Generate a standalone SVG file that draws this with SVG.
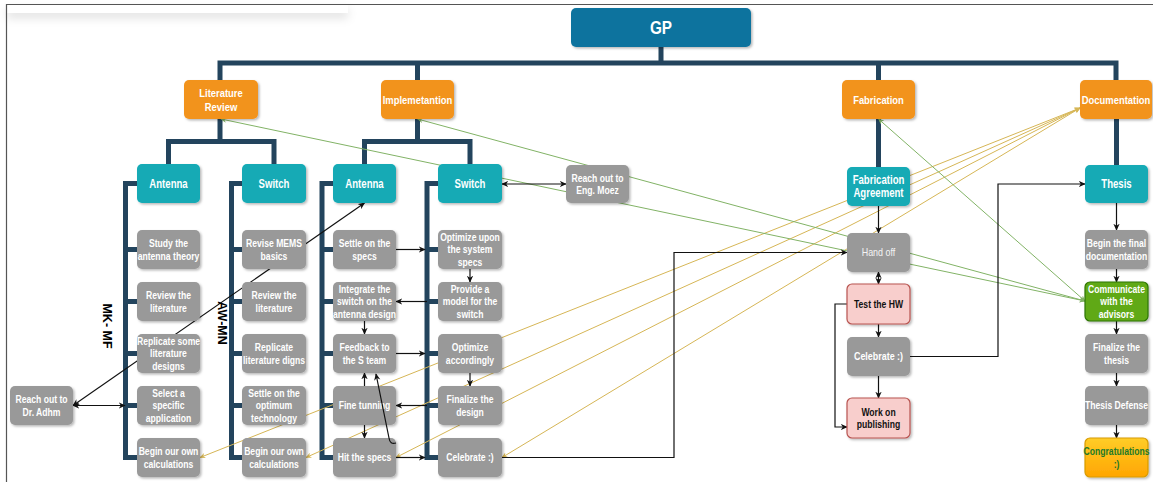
<svg xmlns="http://www.w3.org/2000/svg" width="1153" height="482" viewBox="0 0 1153 482">
  <style>
    rect.n { rx: 5px; ry: 5px; filter: url(#sh); }
    .gray { fill: #999999; }
    .teal { fill: #12AAB5; }
    .orange { fill: #F2931E; }
    .pink { fill: #F8CECC; stroke: #B85450; stroke-width: 1.2; }
    .green { fill: #60A917; stroke: #2D7600; stroke-width: 1.2; }
    .gold { fill: url(#goldGrad); stroke: #D79B00; stroke-width: 1.2; }
    text { font-family: "Liberation Sans", Arial, Helvetica, sans-serif; font-weight: bold; text-anchor: middle; fill: #ffffff; font-size: 10.5px; }
    text.h { font-size: 12px; }
    text.o { font-size: 11.5px; }
    text.dark { fill: #111111; }
    text.cg { fill: #23782A; }
    text.thin { font-weight: normal; fill: #f4f4f4; }
    text.side { fill: #000000; font-size: 12.5px; }
    .tree { fill: none; stroke: #23445D; stroke-width: 5; stroke-linejoin: miter; stroke-linecap: butt; }
    .blk { fill: none; stroke: #111111; stroke-width: 1.2; marker-end: url(#ab); }
    .both { marker-start: url(#ab); }
    .grn { fill: none; stroke: #82B366; stroke-width: 1; marker-start: url(#ag); marker-end: url(#ag); }
    .yel { fill: none; stroke: #D6B656; stroke-width: 1; marker-start: url(#ay); marker-end: url(#ay); }
  </style>
  <defs>
    <filter id="sh" x="-20%" y="-20%" width="150%" height="150%">
      <feDropShadow dx="1.5" dy="1.5" stdDeviation="1" flood-color="#000" flood-opacity="0.28"/>
    </filter>
    <filter id="panelShadow" x="-10%" y="-100%" width="120%" height="500%">
      <feDropShadow dx="0" dy="5" stdDeviation="5" flood-color="#000" flood-opacity="0.12"/>
    </filter>
    <linearGradient id="goldGrad" x1="0" y1="0" x2="0" y2="1">
      <stop offset="0" stop-color="#FFCD28"/>
      <stop offset="1" stop-color="#FFA500"/>
    </linearGradient>
    <marker id="ab" viewBox="0 0 10 10" refX="9" refY="5" markerWidth="7" markerHeight="7" markerUnits="userSpaceOnUse" orient="auto-start-reverse">
      <path d="M0,0.5 L10,5 L0,9.5 L3,5 z" fill="#111111"/>
    </marker>
    <marker id="ag" viewBox="0 0 10 10" refX="9" refY="5" markerWidth="6" markerHeight="6" markerUnits="userSpaceOnUse" orient="auto-start-reverse">
      <path d="M0,0.5 L10,5 L0,9.5 L3,5 z" fill="#82B366"/>
    </marker>
    <marker id="ay" viewBox="0 0 10 10" refX="9" refY="5" markerWidth="6" markerHeight="6" markerUnits="userSpaceOnUse" orient="auto-start-reverse">
      <path d="M0,0.5 L10,5 L0,9.5 L3,5 z" fill="#D6B656"/>
    </marker>
  </defs>

  <!-- page frame and top panel -->
  <rect x="0" y="0" width="1153" height="482" fill="#ffffff"/>
  <rect x="7" y="4" width="341" height="9" fill="#ffffff" filter="url(#panelShadow)"/>
  <path d="M6.5 482 V4.5 H1153" fill="none" stroke="#555555" stroke-width="1.2"/>

  <!-- connectors (below the nodes) -->
  <g id="connectors">
    <g id="tree-lines">
      <path class="tree" d="M220 80 V63 H1116 V80 M661 47 V63 M417.5 63 V80 M878.5 63 V80"/>
      <path class="tree" d="M220 119 V141.5 M168.5 164 V141.5 H274 V164"/>
      <path class="tree" d="M417.5 119 V141.5 M364.5 164 V141.5 H470 V164"/>
      <path class="tree" d="M878.5 119 V167 M1116.5 119 V165"/>
      <path class="tree" d="M137 183.5 H125.5 V457.5 H137 M125.5 249.5 H137 M125.5 301.5 H137 M125.5 353.5 H137 M125.5 405.5 H137"/>
      <path class="tree" d="M242 183.5 H231.5 V457.5 H242 M231.5 249.5 H242 M231.5 301.5 H242 M231.5 353.5 H242 M231.5 405.5 H242"/>
      <path class="tree" d="M333 183.5 H322 V457.5 H333 M322 249.5 H333 M322 301.5 H333 M322 353.5 H333 M322 405.5 H333"/>
      <path class="tree" d="M438 183.5 H427 V457.5 H438 M427 249.5 H438 M427 301.5 H438 M427 353.5 H438 M427 405.5 H438"/>
    </g>
    <g id="doc-links">
      <path class="yel" d="M1080 108 L200 457.5"/>
      <path class="yel" d="M1080 108 L306 457.5"/>
      <path class="yel" d="M1080 108 L396 457.5"/>
      <path class="yel" d="M1080 108 L502 457.5"/>
    </g>
    <g id="advisor-links">
      <path class="grn" d="M1085 301 L221 119"/>
      <path class="grn" d="M1085 301 L417.5 119"/>
      <path class="grn" d="M1085 301 L878.5 119"/>
    </g>
    <g id="flow">
      <path class="blk" d="M396 249.5 H425"/>
      <path class="blk" d="M470 269 V282"/>
      <path class="blk" d="M427 301.5 H396"/>
      <path class="blk" d="M364.5 321 V334"/>
      <path class="blk" d="M396 353.5 H425"/>
      <path class="blk" d="M470 373 V386"/>
      <path class="blk" d="M427 405.5 H396"/>
      <path class="blk" d="M364.5 386 V373"/>
      <path class="blk" d="M364.5 425 V438"/>
      <path class="blk" d="M396 457.5 H425"/>
      <path class="blk" d="M502 457.5 H674 V252.5 H847"/>
      <path class="blk both" d="M502 184 H566"/>
      <path class="blk both" d="M73 405.5 H125"/>
      <path class="blk both" d="M73 405.5 L364.5 203"/>
      <path class="blk" d="M878.5 206 V233"/>
      <path class="blk both" d="M878.5 272 V284"/>
      <path class="blk" d="M878.5 324 V337"/>
      <path class="blk" d="M878.5 376 V398"/>
      <path class="blk" d="M847 304 H835 V427 H847"/>
      <path class="blk" d="M910 356.5 H998 V184 H1085"/>
      <path class="blk" d="M1116.5 203 V230"/>
      <path class="blk" d="M1116.5 269 V282"/>
      <path class="blk" d="M1116.5 321 V334"/>
      <path class="blk" d="M1116.5 373 V386"/>
      <path class="blk" d="M1116.5 425 V438"/>
    </g>
  </g>

  <!-- top level -->
  <g id="gp"><rect class="n" x="571" y="8" width="180" height="39" fill="#10739E"/><text style="font-size:18px" transform="translate(661 27.5) scale(.85 1)" y="6.5">GP</text></g>
  <g id="literature-review"><rect class="n orange" x="184" y="80" width="74" height="39"/><text class="o" transform="translate(221 99.5) scale(.82 1)"><tspan x="0" y="-2.9">Literature</tspan><tspan x="0" y="11.1">Review</tspan></text></g>
  <g id="implementation"><rect class="n orange" x="381" y="80" width="73" height="39"/><text class="o" transform="translate(417.5 99.5) scale(.82 1)" y="4.1">Implemetantion</text></g>
  <g id="fabrication"><rect class="n orange" x="842" y="80" width="73" height="39"/><text class="o" transform="translate(878.5 99.5) scale(.82 1)" y="4.1">Fabrication</text></g>
  <g id="documentation"><rect class="n orange" x="1080" y="80" width="72" height="39"/><text class="o" transform="translate(1116 99.5) scale(.82 1)" y="4.1">Documentation</text></g>

  <!-- literature review: antenna -->
  <g id="lit-antenna"><rect class="n teal" x="137" y="164" width="63" height="39"/><text class="h" transform="translate(168.5 183.5) scale(.8 1)" y="4.3">Antenna</text></g>
  <g id="lit-ant-1"><rect class="n gray" x="137" y="230" width="63" height="39"/><text transform="translate(168.5 249.5) scale(.82 1)"><tspan x="0" y="-2.45">Study the</tspan><tspan x="0" y="10.05">antenna theory</tspan></text></g>
  <g id="lit-ant-2"><rect class="n gray" x="137" y="282" width="63" height="39"/><text transform="translate(168.5 301.5) scale(.82 1)"><tspan x="0" y="-2.45">Review the</tspan><tspan x="0" y="10.05">literature</tspan></text></g>
  <g id="lit-ant-3"><rect class="n gray" x="137" y="334" width="63" height="39"/><text transform="translate(168.5 353.5) scale(.82 1)"><tspan x="0" y="-8.7">Replicate some</tspan><tspan x="0" y="3.8">literature</tspan><tspan x="0" y="16.3">designs</tspan></text></g>
  <g id="lit-ant-4"><rect class="n gray" x="137" y="386" width="63" height="39"/><text transform="translate(168.5 405.5) scale(.82 1)"><tspan x="0" y="-8.7">Select a</tspan><tspan x="0" y="3.8">specific</tspan><tspan x="0" y="16.3">application</tspan></text></g>
  <g id="lit-ant-5"><rect class="n gray" x="137" y="438" width="63" height="39"/><text transform="translate(168.5 457.5) scale(.82 1)"><tspan x="0" y="-2.45">Begin our own</tspan><tspan x="0" y="10.05">calculations</tspan></text></g>

  <!-- literature review: switch -->
  <g id="lit-switch"><rect class="n teal" x="242" y="164" width="64" height="39"/><text class="h" transform="translate(274 183.5) scale(.8 1)" y="4.3">Switch</text></g>
  <g id="lit-sw-1"><rect class="n gray" x="242" y="230" width="64" height="39"/><text transform="translate(274 249.5) scale(.82 1)"><tspan x="0" y="-2.45">Revise MEMS</tspan><tspan x="0" y="10.05">basics</tspan></text></g>
  <g id="lit-sw-2"><rect class="n gray" x="242" y="282" width="64" height="39"/><text transform="translate(274 301.5) scale(.82 1)"><tspan x="0" y="-2.45">Review the</tspan><tspan x="0" y="10.05">literature</tspan></text></g>
  <g id="lit-sw-3"><rect class="n gray" x="242" y="334" width="64" height="39"/><text transform="translate(274 353.5) scale(.82 1)"><tspan x="0" y="-2.45">Replicate</tspan><tspan x="0" y="10.05">literature digns</tspan></text></g>
  <g id="lit-sw-4"><rect class="n gray" x="242" y="386" width="64" height="39"/><text transform="translate(274 405.5) scale(.82 1)"><tspan x="0" y="-8.7">Settle on the</tspan><tspan x="0" y="3.8">optimum</tspan><tspan x="0" y="16.3">technology</tspan></text></g>
  <g id="lit-sw-5"><rect class="n gray" x="242" y="438" width="64" height="39"/><text transform="translate(274 457.5) scale(.82 1)"><tspan x="0" y="-2.45">Begin our own</tspan><tspan x="0" y="10.05">calculations</tspan></text></g>

  <!-- implementation: antenna -->
  <g id="impl-antenna"><rect class="n teal" x="333" y="164" width="63" height="39"/><text class="h" transform="translate(364.5 183.5) scale(.8 1)" y="4.3">Antenna</text></g>
  <g id="impl-ant-1"><rect class="n gray" x="333" y="230" width="63" height="39"/><text transform="translate(364.5 249.5) scale(.82 1)"><tspan x="0" y="-2.45">Settle on the</tspan><tspan x="0" y="10.05">specs</tspan></text></g>
  <g id="impl-ant-2"><rect class="n gray" x="333" y="282" width="63" height="39"/><text transform="translate(364.5 301.5) scale(.82 1)"><tspan x="0" y="-8.7">Integrate the</tspan><tspan x="0" y="3.8">switch on the</tspan><tspan x="0" y="16.3">antenna design</tspan></text></g>
  <g id="impl-ant-3"><rect class="n gray" x="333" y="334" width="63" height="39"/><text transform="translate(364.5 353.5) scale(.82 1)"><tspan x="0" y="-2.45">Feedback to</tspan><tspan x="0" y="10.05">the S team</tspan></text></g>
  <g id="impl-ant-4"><rect class="n gray" x="333" y="386" width="63" height="39"/><text transform="translate(364.5 405.5) scale(.82 1)" y="3.8">Fine tunning</text></g>
  <g id="impl-ant-5"><rect class="n gray" x="333" y="438" width="63" height="39"/><text transform="translate(364.5 457.5) scale(.82 1)" y="3.8">Hit the specs</text></g>

  <!-- implementation: switch -->
  <g id="impl-switch"><rect class="n teal" x="438" y="164" width="64" height="39"/><text class="h" transform="translate(470 183.5) scale(.8 1)" y="4.3">Switch</text></g>
  <g id="impl-sw-1"><rect class="n gray" x="438" y="230" width="64" height="39"/><text transform="translate(470 249.5) scale(.82 1)"><tspan x="0" y="-8.7">Optimize upon</tspan><tspan x="0" y="3.8">the system</tspan><tspan x="0" y="16.3">specs</tspan></text></g>
  <g id="impl-sw-2"><rect class="n gray" x="438" y="282" width="64" height="39"/><text transform="translate(470 301.5) scale(.82 1)"><tspan x="0" y="-8.7">Provide a</tspan><tspan x="0" y="3.8">model for the</tspan><tspan x="0" y="16.3">switch</tspan></text></g>
  <g id="impl-sw-3"><rect class="n gray" x="438" y="334" width="64" height="39"/><text transform="translate(470 353.5) scale(.82 1)"><tspan x="0" y="-2.45">Optimize</tspan><tspan x="0" y="10.05">accordingly</tspan></text></g>
  <g id="impl-sw-4"><rect class="n gray" x="438" y="386" width="64" height="39"/><text transform="translate(470 405.5) scale(.82 1)"><tspan x="0" y="-2.45">Finalize the</tspan><tspan x="0" y="10.05">design</tspan></text></g>
  <g id="impl-sw-5"><rect class="n gray" x="438" y="438" width="64" height="39"/><text transform="translate(470 457.5) scale(.82 1)" y="3.8">Celebrate :)</text></g>

  <!-- outside contacts -->
  <g id="dr-adhm"><rect class="n gray" x="10" y="386" width="63" height="39"/><text transform="translate(41.5 405.5) scale(.82 1)"><tspan x="0" y="-2.45">Reach out to</tspan><tspan x="0" y="10.05">Dr. Adhm</tspan></text></g>
  <g id="eng-moez"><rect class="n gray" x="566" y="165" width="63" height="38"/><text transform="translate(597.5 184) scale(.82 1)"><tspan x="0" y="-2.45">Reach out to</tspan><tspan x="0" y="10.05">Eng. Moez</tspan></text></g>

  <!-- fabrication -->
  <g id="fab-agreement"><rect class="n teal" x="847" y="167" width="63" height="39"/><text class="h" transform="translate(878.5 186.5) scale(.8 1)"><tspan x="0" y="-2.05">Fabrication</tspan><tspan x="0" y="10.65">Agreement</tspan></text></g>
  <g id="hand-off"><rect class="n gray" x="847" y="233" width="63" height="39"/><text class="thin" transform="translate(878.5 252.5) scale(.85 1)" y="3.8">Hand off</text></g>
  <g id="test-hw"><rect class="n pink" x="847" y="284" width="63" height="40"/><text class="dark" transform="translate(878.5 304) scale(.82 1)" y="3.8">Test the HW</text></g>
  <g id="fab-celebrate"><rect class="n gray" x="847" y="337" width="63" height="39"/><text transform="translate(878.5 356.5) scale(.85 1)" y="3.8">Celebrate :)</text></g>
  <g id="publishing"><rect class="n pink" x="847" y="398" width="63" height="40"/><text class="dark" transform="translate(878.5 418) scale(.82 1)"><tspan x="0" y="-2.45">Work on</tspan><tspan x="0" y="10.05">publishing</tspan></text></g>

  <!-- documentation -->
  <g id="thesis"><rect class="n teal" x="1085" y="165" width="63" height="38"/><text class="h" transform="translate(1116.5 184) scale(.8 1)" y="4.3">Thesis</text></g>
  <g id="doc-1"><rect class="n gray" x="1085" y="230" width="63" height="39"/><text transform="translate(1116.5 249.5) scale(.82 1)"><tspan x="0" y="-2.45">Begin the final</tspan><tspan x="0" y="10.05">documentation</tspan></text></g>
  <g id="doc-2"><rect class="n green" x="1085" y="282" width="63" height="39"/><text transform="translate(1116.5 301.5) scale(.82 1)"><tspan x="0" y="-8.7">Communicate</tspan><tspan x="0" y="3.8">with the</tspan><tspan x="0" y="16.3">advisors</tspan></text></g>
  <g id="doc-3"><rect class="n gray" x="1085" y="334" width="63" height="39"/><text transform="translate(1116.5 353.5) scale(.82 1)"><tspan x="0" y="-2.45">Finalize the</tspan><tspan x="0" y="10.05">thesis</tspan></text></g>
  <g id="doc-4"><rect class="n gray" x="1085" y="386" width="63" height="39"/><text transform="translate(1116.5 405.5) scale(.82 1)" y="3.8">Thesis Defense</text></g>
  <g id="doc-5"><rect class="n gold" x="1085" y="438" width="63" height="39"/><text class="cg" transform="translate(1116.5 457.5) scale(.82 1)"><tspan x="0" y="-2.45">Congratulations</tspan><tspan x="0" y="10.05">:)</tspan></text></g>

  <!-- team labels -->
  <g id="team-labels">
    <text class="side" transform="translate(107 326) rotate(90)" y="4.5">MK- MF</text>
    <text class="side" transform="translate(222 323) rotate(90)" y="4.5">AW-MN</text>
  </g>

  <!-- connector drawn over the nodes -->
  <g id="connectors-top">
    <path class="blk" d="M396 443 Q390 445 389 438 L376 374"/>
  </g>
</svg>
